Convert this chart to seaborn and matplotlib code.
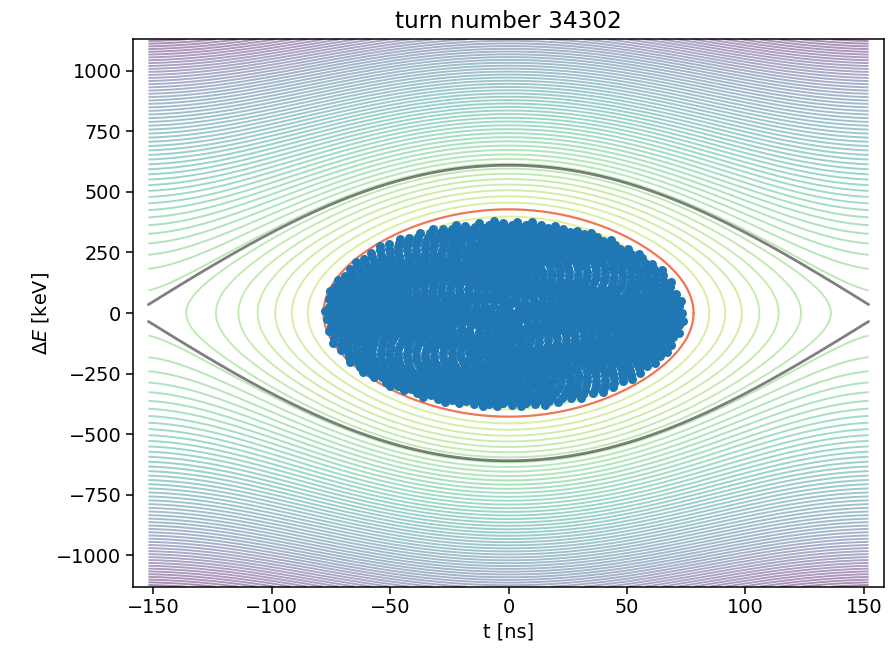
import numpy as np
import matplotlib
matplotlib.use("Agg")
import matplotlib.pyplot as plt
import seaborn as sns
import pandas as pd

# ---- chart values ----
title_text = "turn number 34302"
x_label = "t [ns]"
y_label = r"$\Delta E$ [keV]"
xticks = [-150, -100, -50, 0, 50, 100, 150]
yticks = [-1000, -750, -500, -250, 0, 250, 500, 750, 1000]
t_window = [-152.0, 152.0]          # ns, extent of the phase-space grid
dE_window = [-1130.0, 1130.0]       # keV
bucket_height = 610.0               # keV, separatrix height at t = 0
separatrix_tip = 35.0               # keV, separatrix at the window edge
outline_height = 428.0              # keV, red bunch outline at t = 0
bunch_half_length = 76.0            # ns, particle cloud half-length
bunch_half_height = 386.0           # keV, particle cloud half-height
bunch_center = [-2.0, -5.0]         # ns, keV
n_particles = 1400

# ---- style ----
sns.set_theme(style="ticks")
plt.rcParams["font.family"] = ["DejaVu Sans"]
S = 1.3875
plt.rcParams.update({
    "axes.edgecolor": "black",
    "axes.linewidth": 0.8 * S,
    "xtick.major.size": 3.5 * S,
    "ytick.major.size": 3.5 * S,
    "xtick.major.width": 0.8 * S,
    "ytick.major.width": 0.8 * S,
    "xtick.color": "black",
    "ytick.color": "black",
    "xtick.labelsize": 10 * S,
    "ytick.labelsize": 10 * S,
    "axes.labelsize": 10 * S,
    "axes.titlesize": 12 * S,
    "text.color": "black",
    "axes.labelcolor": "black",
})

omega = 2 * np.arccos(separatrix_tip / bucket_height) / t_window[1]


def hamiltonian(t, dE):
    return (dE / bucket_height) ** 2 + (1 - np.cos(omega * t)) / 2


fig = plt.figure(figsize=(8.88, 6.5), dpi=100)
ax = fig.add_axes([0.1498, 0.0974, 0.9955 - 0.1498, 0.9395 - 0.0974])

# background Hamiltonian contours
tg = np.linspace(t_window[0], t_window[1], 500)
eg = np.linspace(dE_window[0], dE_window[1], 700)
T, E = np.meshgrid(tg, eg)
Hg = hamiltonian(T, E)
levels = np.arange(0.03, Hg.max(), 0.066)
ax.contour(T, E, Hg, levels=levels, cmap="viridis_r", alpha=0.45,
           linewidths=1.4, vmin=0, vmax=Hg.max(), zorder=1)

# separatrix
ts = np.linspace(t_window[0], t_window[1], 400)
sep = bucket_height * np.cos(omega * ts / 2)
sep_df = pd.DataFrame({"t": np.concatenate([ts, ts]),
                       "dE": np.concatenate([sep, -sep]),
                       "branch": ["up"] * len(ts) + ["down"] * len(ts)})
sns.lineplot(data=sep_df, x="t", y="dE", units="branch", estimator=None,
             color="black", alpha=0.5, linewidth=2.0, ax=ax, zorder=3,
             sort=False)

# red bunch outline (contour of equal Hamiltonian)
h_out = (outline_height / bucket_height) ** 2
th = np.linspace(0, 2 * np.pi, 400)
P = h_out * np.cos(th) ** 2
t_out = np.sign(np.cos(th)) * np.arccos(1 - 2 * P) / omega
dE_out = outline_height * np.sin(th)
ax.plot(t_out, dE_out, color="red", alpha=0.5, linewidth=1.6, zorder=4)

# particles: deterministic uniform filling of the bunch area
i = np.arange(n_particles)
r = np.sqrt((i + 0.5) / n_particles)
ang = i * np.pi * (3 - np.sqrt(5))
tp = bunch_half_length * r * np.cos(ang) + bunch_center[0]
ep = bunch_half_height * r * np.sin(ang) + bunch_center[1]
pdf = pd.DataFrame({"t": tp, "dE": ep})
sns.scatterplot(data=pdf, x="t", y="dE", s=42, color="#1f77b4",
                linewidth=0, ax=ax, zorder=5)

ax.set_xlim(-158.5, 158.5)
ax.set_ylim(dE_window[0], dE_window[1])
ax.set_xticks(xticks)
ax.set_yticks(yticks)
ax.set_xlabel(x_label)
ax.set_ylabel(y_label)
ax.set_title(title_text, pad=6 * S)

fig.savefig("out.png", dpi=100)
